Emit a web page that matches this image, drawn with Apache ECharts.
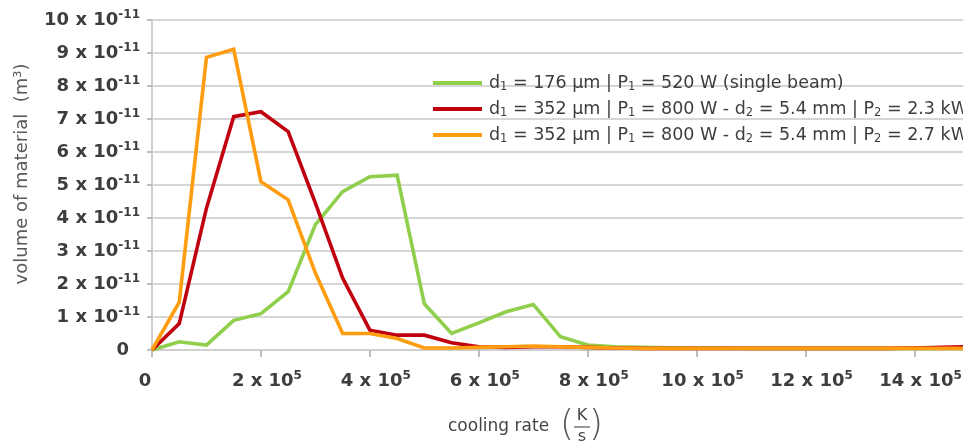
<!DOCTYPE html>
<html>
<head>
<meta charset="utf-8">
<script src="https://cdn.jsdelivr.net/npm/echarts@6/dist/echarts.min.js"></script>
<style>
  html, body { margin: 0; padding: 0; background: #ffffff; }
  #chart { width: 963px; height: 445px; }
</style>
</head>
<body>
<div id="chart"></div>
<script>
// Cooling rate, in units of 10^5 K/s (sampled every 0.5 x 10^5)
const coolingRate = [0, 0.5, 1, 1.5, 2, 2.5, 3, 3.5, 4, 4.5, 5, 5.5, 6, 6.5, 7, 7.5,
  8, 8.5, 9, 9.5, 10, 10.5, 11, 11.5, 12, 12.5, 13, 13.5, 14, 14.5, 15];

// Volume of material, in units of 10^-11 m³
const singleBeam = [0, 0.25, 0.15, 0.9, 1.1, 1.77, 3.8, 4.8, 5.25, 5.3, 1.4, 0.5, 0.82, 1.16, 1.38, 0.4,
  0.15, 0.1, 0.08, 0.07, 0.06, 0.06, 0.05, 0.05, 0.05, 0.05, 0.05, 0.05, 0.05, 0.05, 0.05];
const dualBeam23 = [0, 0.8, 4.3, 7.07, 7.22, 6.62, 4.45, 2.18, 0.6, 0.45, 0.45, 0.22, 0.1, 0.08, 0.1, 0.1,
  0.08, 0.06, 0.05, 0.05, 0.05, 0.05, 0.05, 0.05, 0.05, 0.05, 0.05, 0.05, 0.06, 0.08, 0.1];
const dualBeam27 = [0, 1.45, 8.87, 9.11, 5.1, 4.55, 2.33, 0.5, 0.5, 0.35, 0.06, 0.06, 0.08, 0.1, 0.12, 0.1,
  0.08, 0.06, 0.05, 0.05, 0.05, 0.05, 0.05, 0.05, 0.05, 0.05, 0.05, 0.05, 0.05, 0.05, 0.05];

const seriesNames = [
  'd1 = 176 µm | P1 = 520 W (single beam)',
  'd1 = 352 µm | P1 = 800 W - d2 = 5.4 mm | P2 = 2.3 kW',
  'd1 = 352 µm | P1 = 800 W - d2 = 5.4 mm | P2 = 2.7 kW'
];
const seriesValues = [singleBeam, dualBeam23, dualBeam27];
const seriesColors = ['#8fcf4c', '#c0000f', '#ff9c0f'];

// Axis tick labels: power of ten shown as superscript
const xTickPower = '5';
const yTickPower = '-11';

const FONT = 'DejaVu Sans';
const TICK_COLOR = '#3d3d3d';
const tickRich = {
  n: { fontFamily: FONT, fontSize: 18, fontWeight: 'bold', color: TICK_COLOR, lineHeight: 22 },
  s: { fontFamily: FONT, fontSize: 12, fontWeight: 'bold', color: TICK_COLOR, verticalAlign: 'top', lineHeight: 22 },
  // zero labels sit a little off the tick
  zy: { fontFamily: FONT, fontSize: 18, fontWeight: 'bold', color: TICK_COLOR, lineHeight: 22, padding: [0, 11, 0, 0] },
  zx: { fontFamily: FONT, fontSize: 18, fontWeight: 'bold', color: TICK_COLOR, lineHeight: 22, padding: [0, 14, 0, 0] },
  nx: { fontFamily: FONT, fontSize: 18, fontWeight: 'bold', color: TICK_COLOR, lineHeight: 22, padding: [0, 0, 0, 12] }
};

const chart = echarts.init(document.getElementById('chart'), null, { renderer: 'canvas' });

chart.setOption({
  backgroundColor: '#ffffff',
  animation: false,
  grid: { left: 152, right: -6, top: 20, bottom: 95, outerBoundsMode: 'none', containLabel: false },
  xAxis: {
    type: 'value',
    min: 0,
    max: 15,
    interval: 2,
    axisLine: { show: true, lineStyle: { color: '#cfcfcf', width: 2 } },
    axisTick: { show: true, length: 7, lineStyle: { color: '#bdbdbd', width: 2 } },
    splitLine: { show: false },
    axisLabel: {
      margin: 20,
      showMaxLabel: false,
      formatter: v => (v % 2 !== 0 ? '' : v === 0 ? '{zx|0}' : '{nx|' + v + ' x 10}{s|' + xTickPower + '}'),
      rich: tickRich
    }
  },
  yAxis: {
    type: 'value',
    min: 0,
    max: 10,
    interval: 1,
    axisLine: { show: true, lineStyle: { color: '#cfcfcf', width: 2 } },
    axisTick: { show: true, length: 5, lineStyle: { color: '#bdbdbd', width: 2 } },
    splitLine: { show: true, lineStyle: { color: '#d6d6d6', width: 2 } },
    axisLabel: {
      margin: 12,
      formatter: v => (v === 0 ? '{zy|0}' : '{n|' + v + ' x 10}{s|' + yTickPower + '}'),
      rich: tickRich
    }
  },
  legend: {
    orient: 'vertical',
    left: 428,
    top: 68,
    itemWidth: 49,
    itemHeight: 4,
    itemGap: 6,
    icon: 'rect',
    data: seriesNames,
    formatter: name => name.replace(/([dP])([12])/g, '$1{sub|$2}'),
    textStyle: {
      fontFamily: FONT,
      fontSize: 17.5,
      color: '#3d3d3d',
      lineHeight: 20,
      padding: [0, 0, 0, 2],
      rich: {
        sub: { fontFamily: FONT, fontSize: 11.5, color: '#3d3d3d', verticalAlign: 'bottom', lineHeight: 20 }
      }
    }
  },
  series: seriesNames.map((name, i) => ({
    name: name,
    type: 'line',
    data: coolingRate.map((x, j) => [x, seriesValues[i][j]]),
    showSymbol: false,
    symbol: 'none',
    smooth: false,
    color: seriesColors[i],
    lineStyle: { color: seriesColors[i], width: 3.6, join: 'miter' },
    z: 2 + i
  })),
  graphic: [
    {
      type: 'text',
      x: 22, y: 174,
      rotation: Math.PI / 2,
      style: {
        text: 'volume of material  (m³)',
        font: '18px "DejaVu Sans"',
        fill: '#5a5a5a',
        align: 'center',
        verticalAlign: 'middle'
      }
    },
    {
      type: 'text',
      x: 448, y: 427,
      style: { text: 'cooling rate', font: '17px "DejaVu Sans"', fill: '#444444', align: 'left', verticalAlign: 'middle' }
    },
    {
      type: 'text',
      x: 567, y: 426,
      style: { text: '(', font: '200 36px "DejaVu Sans"', fill: '#555555', align: 'center', verticalAlign: 'middle' }
    },
    {
      type: 'text',
      x: 582, y: 416,
      style: { text: 'K', font: '16px "DejaVu Sans"', fill: '#444444', align: 'center', verticalAlign: 'middle' }
    },
    {
      type: 'line',
      shape: { x1: 574, y1: 427, x2: 590, y2: 427 },
      style: { stroke: '#555555', lineWidth: 1.2 }
    },
    {
      type: 'text',
      x: 582, y: 437,
      style: { text: 's', font: '16px "DejaVu Sans"', fill: '#444444', align: 'center', verticalAlign: 'middle' }
    },
    {
      type: 'text',
      x: 596, y: 426,
      style: { text: ')', font: '200 36px "DejaVu Sans"', fill: '#555555', align: 'center', verticalAlign: 'middle' }
    }
  ]
});
</script>
</body>
</html>
